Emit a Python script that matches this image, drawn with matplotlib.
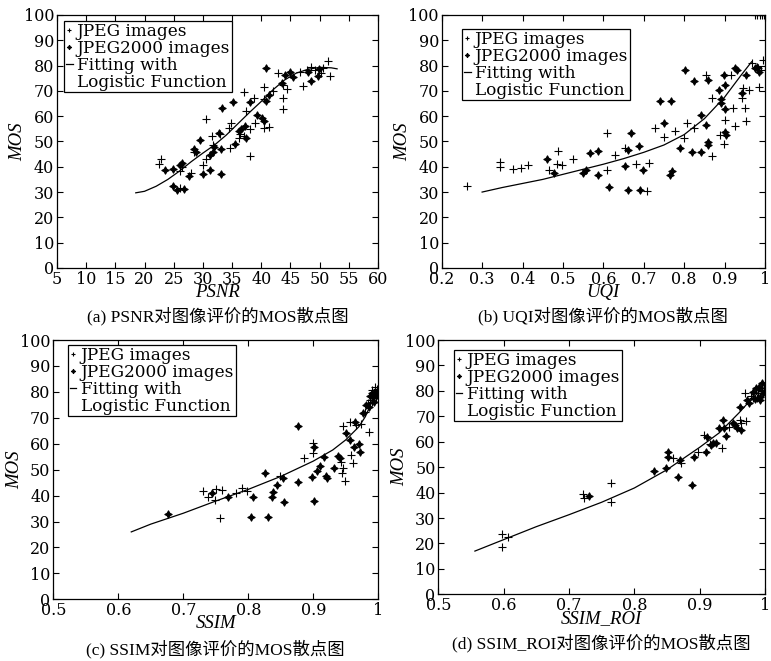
import matplotlib
matplotlib.use("Agg")
import matplotlib.pyplot as plt

plt.rcParams['font.family'] = ['DejaVu Serif', 'Noto Sans CJK SC']

# ==============================
# DATA
# ==============================

# (a) PSNR
psnr_jpeg_x = [22.9, 22.5, 26.0, 26.4, 26.1, 27.9, 28.4, 30.6, 30.1, 30.6, 31.5, 31.8, 32.9,
               34.6, 34.9, 34.5, 36.3, 36.2, 37.1, 37.4, 37.0, 38.1, 38.1, 38.8, 38.9, 40.4,
               40.5, 40.5, 41.3, 42.1, 42.8, 43.8, 43.8, 43.8, 44.5, 46.6, 47.2, 48.5, 49.2,
               50.3, 50.5, 51.5, 51.8, 47.8]
psnr_jpeg_y = [43.1, 41.2, 38.4, 40.1, 31.5, 37.7, 46.0, 58.8, 40.7, 43.1, 52.2, 48.6, 52.8,
               47.3, 57.2, 55.5, 52.8, 51.5, 69.7, 62.1, 52.2, 54.9, 44.4, 67.1, 57.4, 55.5,
               71.4, 66.7, 55.9, 70.0, 76.9, 72.3, 67.1, 62.9, 70.6, 77.3, 72.1, 79.6, 78.3,
               76.9, 78.9, 81.8, 76.0, 78.3]
psnr_j2k_x = [23.5, 24.8, 26.1, 26.5, 24.8, 25.6, 26.8, 27.7, 28.5, 28.9, 29.5, 30.1, 31.2,
              31.7, 31.2, 31.9, 32.8, 33.2, 33.1, 33.1, 35.1, 35.5, 36.2, 36.5, 37.2, 37.4,
              38.0, 39.2, 40.2, 40.4, 40.9, 40.8, 41.4, 43.5, 44.1, 45.0, 45.4, 48.1, 48.5,
              49.9, 49.8]
psnr_j2k_y = [38.7, 39.0, 40.5, 41.4, 32.2, 30.8, 31.1, 36.4, 46.9, 45.7, 50.6, 37.2, 44.7,
              45.7, 38.7, 48.0, 53.5, 63.1, 46.9, 37.2, 65.4, 48.9, 54.2, 54.9, 56.3, 51.3,
              65.5, 60.5, 59.4, 58.1, 78.9, 65.8, 68.4, 73.0, 76.3, 77.6, 75.6, 77.6, 73.9,
              78.7, 76.0]
psnr_fit_x = [18.5, 20, 22, 24, 26, 28, 30, 32, 34, 36, 38, 40, 42, 44, 46, 48, 50, 52, 53]
psnr_fit_y = [29.7, 30.3, 32.3, 35.0, 38.3, 42.0, 45.4, 48.6, 52.5, 57.0, 61.5, 65.8, 70.4,
              74.3, 77.0, 78.5, 79.3, 79.1, 78.7]

# (b) UQI
uqi_jpeg_x = [0.262, 0.344, 0.344, 0.377, 0.396, 0.414, 0.466, 0.489, 0.485, 0.497, 0.526,
              0.608, 0.608, 0.630, 0.653, 0.681, 0.709, 0.713, 0.729, 0.751, 0.777, 0.800,
              0.806, 0.824, 0.854, 0.868, 0.870, 0.888, 0.902, 0.899, 0.916, 0.920, 0.927,
              0.942, 0.946, 0.950, 0.952, 0.961, 0.967, 0.989, 0.986, 0.994, 0.983,
              0.975, 0.981, 0.987, 0.992, 0.997]
uqi_jpeg_y = [32.2, 41.8, 39.8, 39.1, 39.4, 40.7, 38.7, 46.4, 41.0, 40.7, 42.9,
              53.2, 38.7, 44.7, 47.3, 41.0, 30.4, 41.4, 55.5, 51.9, 54.2, 51.3,
              57.4, 55.5, 76.3, 67.1, 44.4, 52.6, 58.5, 48.9, 76.3, 63.1, 56.3,
              67.1, 71.0, 63.1, 58.2, 70.4, 80.9, 78.3, 71.7, 82.2, 78.9,
              100, 100, 100, 100, 100]
uqi_j2k_x = [0.460, 0.479, 0.550, 0.556, 0.567, 0.588, 0.588, 0.614, 0.653, 0.662, 0.660,
             0.668, 0.689, 0.691, 0.699, 0.740, 0.750, 0.767, 0.765, 0.769, 0.790, 0.802,
             0.820, 0.825, 0.842, 0.842, 0.855, 0.860, 0.860, 0.860, 0.887, 0.890, 0.891,
             0.899, 0.901, 0.903, 0.902, 0.901, 0.926, 0.930, 0.942, 0.953, 0.975, 0.979,
             0.985]
uqi_j2k_y = [43.1, 37.4, 37.4, 38.7, 45.3, 46.4, 36.8, 31.9, 40.3, 46.6, 30.8,
             53.5, 48.4, 30.8, 38.7, 65.8, 57.2, 65.8, 36.8, 38.4, 47.6, 78.3,
             45.7, 73.7, 46.0, 60.5, 56.5, 74.3, 49.9, 48.6, 70.4, 66.8, 65.1,
             76.3, 72.3, 52.6, 53.9, 62.9, 78.9, 78.3, 69.0, 76.3, 79.2, 79.6,
             77.6]
uqi_fit_x = [0.3, 0.35, 0.4, 0.45, 0.5, 0.55, 0.6, 0.65, 0.7, 0.75, 0.8, 0.85, 0.9, 0.94, 0.967]
uqi_fit_y = [30.0, 31.8, 33.4, 35.0, 37.0, 39.0, 41.0, 43.2, 45.7, 48.6, 52.7, 59.0, 67.5,
             76.0, 81.5]

# (c) SSIM
ssim_jpeg_x = [0.731, 0.738, 0.750, 0.759, 0.749, 0.756, 0.781, 0.790, 0.798, 0.849, 0.886,
               0.900, 0.899, 0.943, 0.945, 0.944, 0.949, 0.946, 0.957, 0.958, 0.961, 0.965,
               0.973, 0.980, 0.985, 0.988, 0.991, 0.995, 0.997, 0.990, 0.984, 0.998]
ssim_jpeg_y = [41.9, 39.6, 42.5, 42.2, 38.3, 31.2, 40.9, 42.8, 41.9, 47.6, 54.4,
               60.1, 56.6, 53.1, 50.5, 48.6, 45.6, 66.8, 68.5, 55.6, 52.4, 67.2,
               67.6, 72.4, 64.6, 76.9, 80.7, 82.0, 77.5, 76.2, 75.6, 81.0]
ssim_j2k_x = [0.676, 0.744, 0.769, 0.804, 0.807, 0.826, 0.831, 0.838, 0.836, 0.844, 0.854,
              0.855, 0.877, 0.877, 0.901, 0.898, 0.901, 0.905, 0.910, 0.917, 0.920, 0.921,
              0.932, 0.938, 0.941, 0.951, 0.957, 0.962, 0.964, 0.971, 0.972, 0.977, 0.981,
              0.986, 0.990, 0.992, 0.995, 0.998, 0.993, 0.987, 0.999]
ssim_j2k_y = [32.8, 40.9, 39.6, 31.9, 39.6, 48.8, 31.9, 41.5, 39.6, 44.1, 46.6,
              37.4, 66.8, 45.4, 58.9, 47.3, 37.9, 49.6, 51.4, 54.8, 47.6, 46.6,
              50.5, 55.3, 54.4, 64.3, 61.4, 58.9, 68.5, 59.9, 56.9, 71.7, 74.9,
              74.3, 79.4, 78.1, 79.7, 78.8, 76.2, 78.4, 80.7]
ssim_fit_x = [0.62, 0.65, 0.7, 0.75, 0.8, 0.85, 0.9, 0.93, 0.95, 0.97, 0.98, 0.99, 0.996]
ssim_fit_y = [26.0, 29.0, 33.2, 37.9, 42.4, 47.4, 53.3, 57.6, 61.5, 66.5, 70.4, 76.0, 81.5]

# (d) SSIM_ROI
roi_jpeg_x = [0.597, 0.597, 0.607, 0.721, 0.723, 0.764, 0.765, 0.859, 0.872, 0.898, 0.906,
              0.916, 0.934, 0.945, 0.962, 0.964, 0.971, 0.969, 0.978, 0.990, 0.995, 0.988,
              0.981, 0.998]
roi_jpeg_y = [23.6, 18.7, 22.4, 39.5, 38.0, 43.9, 36.4, 53.5, 51.8, 56.1, 62.6,
              59.0, 57.7, 65.9, 68.5, 67.5, 68.3, 79.0, 78.0, 79.0, 80.3, 77.1,
              77.1, 81.0]
roi_j2k_x = [0.731, 0.830, 0.848, 0.851, 0.852, 0.867, 0.870, 0.889, 0.892, 0.911, 0.909,
             0.918, 0.921, 0.925, 0.936, 0.929, 0.938, 0.940, 0.951, 0.957, 0.963, 0.954,
             0.962, 0.972, 0.976, 0.982, 0.985, 0.986, 0.991, 0.992, 0.996, 0.997, 0.993]
roi_j2k_y = [38.8, 48.6, 49.8, 56.1, 54.1, 46.3, 52.8, 43.0, 54.1, 62.0, 56.1,
             58.7, 59.6, 59.4, 68.5, 65.3, 65.3, 62.3, 67.2, 65.3, 64.6, 66.6,
             73.8, 76.4, 75.1, 79.7, 76.7, 81.0, 81.7, 77.7, 83.0, 79.0, 76.4]
roi_fit_x = [0.556, 0.6, 0.65, 0.7, 0.75, 0.8, 0.85, 0.9, 0.93, 0.96, 0.98, 0.997]
roi_fit_y = [17.0, 21.5, 26.6, 31.3, 36.2, 41.8, 49.0, 57.8, 63.5, 71.3, 77.0, 81.0]

# ==============================
# DRAWING
# ==============================

fig = plt.figure(figsize=(7.71, 6.61), dpi=100)

panels = [
    # rect, data, xlim, xticks, xlabel, caption, legend anchor
    ([0.0739, 0.5946, 0.4163, 0.3828],
     (psnr_jpeg_x, psnr_jpeg_y, psnr_j2k_x, psnr_j2k_y, psnr_fit_x, psnr_fit_y),
     (5, 60), list(range(5, 61, 5)), 'PSNR', '(a) PSNR对图像评价的MOS散点图', (0.022, 0.976)),
    ([0.5729, 0.5946, 0.4193, 0.3828],
     (uqi_jpeg_x, uqi_jpeg_y, uqi_j2k_x, uqi_j2k_y, uqi_fit_x, uqi_fit_y),
     (0.2, 1.0), [0.2, 0.3, 0.4, 0.5, 0.6, 0.7, 0.8, 0.9, 1.0], 'UQI',
     '(b) UQI对图像评价的MOS散点图', (0.063, 0.945)),
    ([0.0691, 0.0933, 0.4215, 0.3923],
     (ssim_jpeg_x, ssim_jpeg_y, ssim_j2k_x, ssim_j2k_y, ssim_fit_x, ssim_fit_y),
     (0.5, 1.0), [0.5, 0.6, 0.7, 0.8, 0.9, 1.0], 'SSIM',
     '(c) SSIM对图像评价的MOS散点图', (0.045, 0.981)),
    ([0.5685, 0.1009, 0.4237, 0.3847],
     (roi_jpeg_x, roi_jpeg_y, roi_j2k_x, roi_j2k_y, roi_fit_x, roi_fit_y),
     (0.5, 1.0), [0.5, 0.6, 0.7, 0.8, 0.9, 1.0], 'SSIM_ROI',
     '(d) SSIM_ROI对图像评价的MOS散点图', (0.048, 0.961)),
]

def fmt_tick(v):
    if abs(v - round(v)) < 1e-9:
        return str(int(round(v)))
    return ('%.1f' % v)

for rect, data, xlim, xticks, xlabel, caption, anchor in panels:
    jx, jy, kx, ky, fx, fy = data
    ax = fig.add_axes(rect)
    ax.plot(jx, jy, linestyle='none', marker='+', color='black',
            markersize=6, markeredgewidth=0.8, label='JPEG images')
    ax.plot(kx, ky, linestyle='none', marker=(4, 1, 0), color='black',
            markersize=5.5, markeredgewidth=0.7, label='JPEG2000 images')
    ax.plot(fx, fy, color='black', linewidth=0.9, label='Fitting with')
    # second line of the fit label, no handle
    ax.plot([], [], linestyle='none', label='Logistic Function')

    ax.set_xlim(*xlim)
    ax.set_ylim(0, 100)
    ax.set_xticks(xticks)
    ax.set_xticklabels([fmt_tick(v) for v in xticks])
    ax.set_yticks(range(0, 101, 10))
    ax.tick_params(direction='in', top=True, right=True, length=4, width=0.8,
                   labelsize=11.5, pad=2)
    for s in ax.spines.values():
        s.set_linewidth(0.9)

    ax.set_xlabel(xlabel, fontsize=13.5, style='italic', labelpad=-3,
                  family=['Liberation Serif'])
    ax.set_ylabel('MOS', fontsize=13.5, style='italic', labelpad=-2,
                  family=['Liberation Serif'])

    ax.text(0.5, -0.19, caption, transform=ax.transAxes, ha='center', va='center',
            fontsize=12.5, family=['Liberation Serif', 'Noto Sans CJK SC'])

    leg = ax.legend(loc='upper left', bbox_to_anchor=anchor, fontsize=12.2,
                    handlelength=0.4, handletextpad=0.25, labelspacing=0.0,
                    borderpad=0.1, borderaxespad=0.0, fancybox=False,
                    framealpha=1, edgecolor='black', markerscale=0.6)
    leg.get_frame().set_linewidth(0.9)

fig.savefig('out.png', dpi=100)
